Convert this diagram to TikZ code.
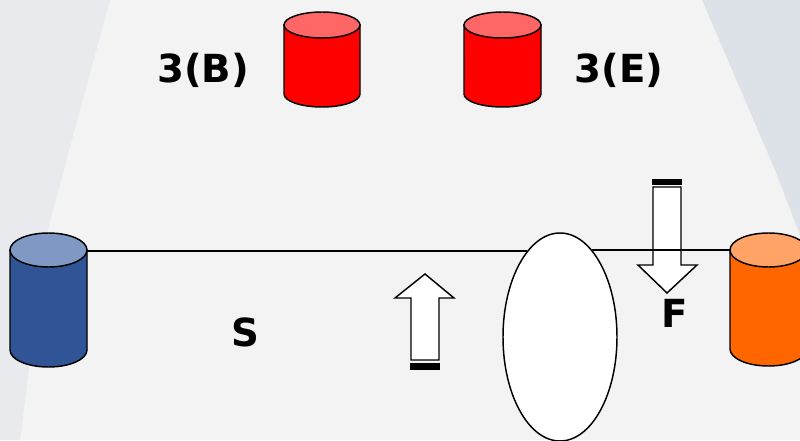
\documentclass[tikz,border=0pt]{standalone}
\usepackage{fontspec}
\setmainfont{DejaVu Sans}
\usetikzlibrary{shapes.geometric}
\definecolor{bgmain}{HTML}{F3F3F3}
\definecolor{bgleft}{HTML}{E9EAED}
\definecolor{bgright}{HTML}{DDE1E8}
\definecolor{redbody}{HTML}{FF0000}
\definecolor{redtop}{HTML}{FF6666}
\definecolor{bluebody}{HTML}{2F5597}
\definecolor{bluetop}{HTML}{7F99C4}
\definecolor{orangebody}{HTML}{FF6600}
\definecolor{orangetop}{HTML}{FFA366}
\newcommand\mycyl[7]{%
  \filldraw[cylline, fill=#6] ({#1-#4},#2) -- ({#1-#4},#3)
    arc[start angle=180, end angle=360, x radius=#4, y radius=#5] -- ({#1+#4},#2) -- cycle;
  \filldraw[cylline, fill=#7] (#1,#2) ellipse [x radius=#4, y radius=#5];
}
\tikzset{
  cylline/.style={draw=black, line width=1.1pt},
  conn/.style={draw=black, line width=1.1pt},
  label/.style={font=\bfseries\fontsize{29}{34}\selectfont, text=black, inner sep=0pt},
  arrowshape/.style={draw=black, fill=white, line width=1.1pt, line join=miter},
  stripe/.style={fill=black, draw=none},
}
\begin{document}
\begin{tikzpicture}[x=0.75pt, y=0.75pt]
  % background
  \fill[bgmain] (0,0) rectangle (800,440);
  \fill[bgleft] (0,440) -- (110,440) -- (80,330) -- (45,200) -- (20,0) -- (0,0) -- cycle;
  \fill[bgright] (702,440) -- (800,440) -- (800,205) -- (775,270) -- (745,340) -- cycle;
  \useasboundingbox (0,0) rectangle (800,440);

  % cylinders
  \mycyl{322}{415}{346}{38}{13}{redbody}{redtop}
  \mycyl{502.5}{415}{346}{38.5}{13}{redbody}{redtop}
  \mycyl{48.5}{190}{90}{38.5}{17}{bluebody}{bluetop}
  \mycyl{768.5}{190}{91}{38.5}{17}{orangebody}{orangetop}
  \coordinate (blueR) at (87,189);
  \coordinate (orangeL) at (730,190);

  % labels
  \node[label] (lb) at (203,370) {3(B)};
  \node[label] (le) at (619,370) {3(E)};
  \node[label] (ls) at (245,108) {S};
  \node[label] (lf) at (675,127) {F};

  % lens
  \node[ellipse, draw=black, fill=white, line width=1.1pt, minimum width=85.5pt,
        minimum height=156pt, inner sep=0pt] (lens) at (560,103) {};

  % up arrow
  \filldraw[arrowshape] (411,80) -- (411,142) -- (395,142) -- (425,166) -- (454,142)
     -- (439,142) -- (439,80) -- cycle;
  \fill[stripe] (410,70) rectangle (440,77.5);
  % down arrow
  \filldraw[arrowshape] (653,253) -- (653,175) -- (638,175) -- (667,147) -- (697,175)
     -- (681,175) -- (681,253) -- cycle;
  \fill[stripe] (652,255.5) rectangle (682,261);

  % connectors
  \draw[conn] (blueR) -- (blueR -| lens.111);
  \draw[conn] (orangeL -| lens.70) -- (orangeL);
\end{tikzpicture}
\end{document}
